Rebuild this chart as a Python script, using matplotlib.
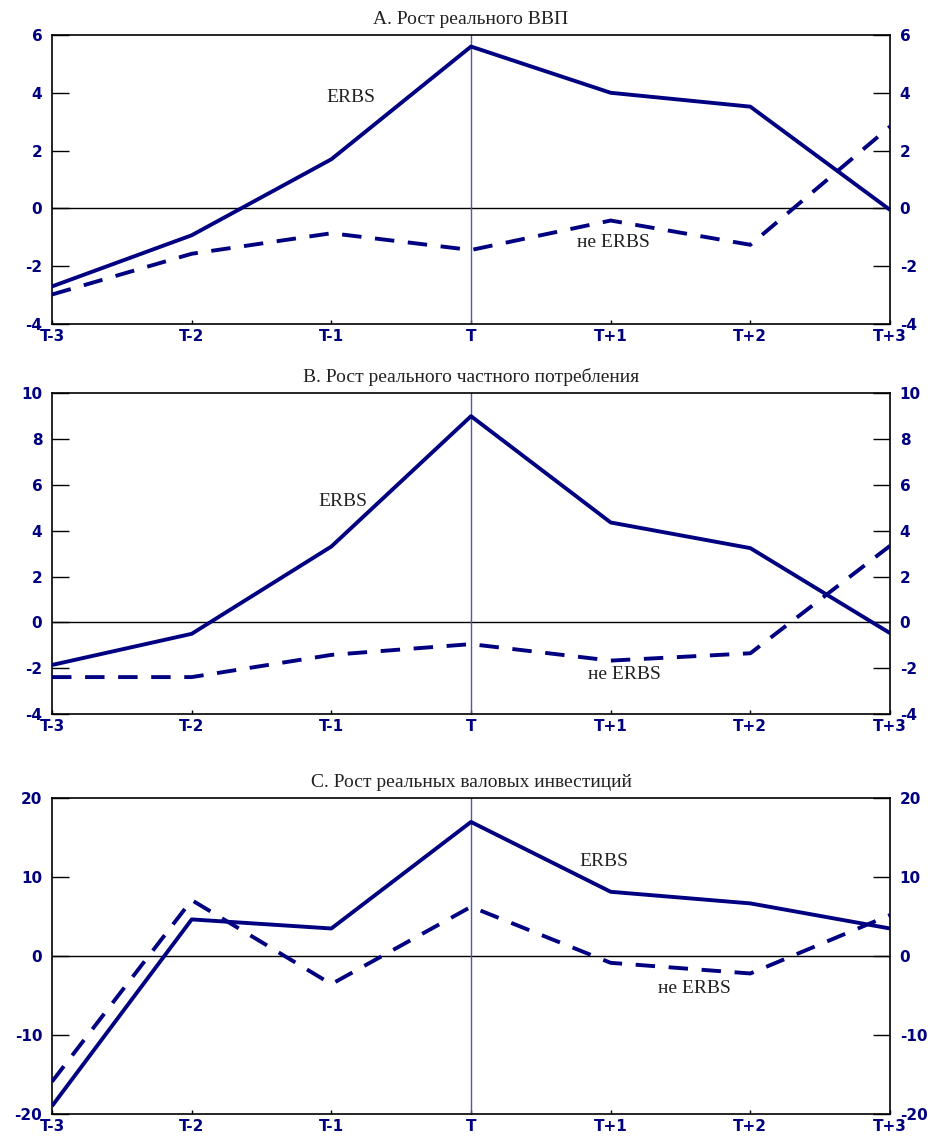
import numpy as np
import matplotlib.pyplot as plt

plt.rcParams['axes.unicode_minus'] = False

periods = ['T-3', 'T-2', 'T-1', 'T', 'T+1', 'T+2', 'T+3']

# A. real GDP growth
gdp_erbs = [-2.7, -0.93, 1.7, 5.6, 4.0, 3.52, -0.05]
gdp_other = [-2.98, -1.57, -0.86, -1.44, -0.42, -1.26, 2.83]

# B. real private consumption growth
cons_erbs = [-1.86, -0.5, 3.31, 9.0, 4.36, 3.24, -0.47]
cons_other = [-2.39, -2.39, -1.42, -0.95, -1.67, -1.35, 3.34]

# C. real gross investment growth
inv_erbs = [-19.0, 4.65, 3.5, 17.0, 8.15, 6.68, 3.5]
inv_other = [-15.9, 7.1, -3.55, 6.25, -0.85, -2.2, 5.2]

titles = ['A. Рост реального ВВП',
          'B. Рост реального частного потребления',
          'C. Рост реальных валовых инвестиций']
ylims = [(-4, 6), (-4, 10), (-20, 20)]
ysteps = [2, 2, 10]
# label positions (x, y) for ERBS and не ERBS
erbs_pos = [(2.14, 3.82), (2.08, 5.27), (3.95, 11.95)]
other_pos = [(4.02, -1.18), (4.1, -2.29), (4.6, -4.1)]

series = [(gdp_erbs, gdp_other), (cons_erbs, cons_other), (inv_erbs, inv_other)]

navy = '#000080'
fig = plt.figure(figsize=(9.41, 11.36), dpi=100)
boxes = [[0.0553, 0.7148, 0.8905, 0.2544],
         [0.0553, 0.3715, 0.8905, 0.2823],
         [0.0553, 0.0194, 0.8905, 0.2779]]

x = np.arange(len(periods))
for i in range(3):
    ax = fig.add_axes(boxes[i])
    erbs, other = series[i]
    ax.plot(x, erbs, color=navy, lw=2.8, solid_capstyle='butt', zorder=3)
    ax.plot(x, other, color=navy, lw=2.8, dashes=(5, 3.5), dash_capstyle='butt', zorder=3)
    ax.axhline(0, color='black', lw=1.0, zorder=2)
    ax.axvline(3, color='#5555aa', lw=1.0, zorder=2)

    lo, hi = ylims[i]
    ax.set_xlim(0, 6)
    ax.set_ylim(lo, hi)
    ax.set_xticks(x)
    ax.set_xticklabels(periods)
    ax.set_yticks(np.arange(lo, hi + 1, ysteps[i]))

    ax.tick_params(axis='y', direction='in', length=12, width=1, left=True, right=True,
                   labelleft=True, labelright=True, pad=7, labelcolor=navy, labelsize=11)
    ax.tick_params(axis='x', direction='in', length=3, width=1, pad=3.5,
                   labelcolor=navy, labelsize=11)
    for lab in ax.get_xticklabels() + ax.get_yticklabels():
        lab.set_fontweight('bold')
    for t in ax.yaxis.get_major_ticks():
        t.label2.set_fontweight('bold')
    for s in ax.spines.values():
        s.set_linewidth(1.2)

    ax.text(*erbs_pos[i], 'ERBS', family='Liberation Serif', fontsize=14,
            ha='center', va='center', color='#222222', zorder=4)
    ax.text(*other_pos[i], 'не ERBS', family='Liberation Serif', fontsize=14,
            ha='center', va='center', color='#222222', zorder=4,
            bbox=dict(facecolor='white', edgecolor='none', pad=1))
    ax.set_title(titles[i], family='Liberation Serif', fontsize=14, color='#222222', pad=8)

fig.savefig('out.png', dpi=100)
